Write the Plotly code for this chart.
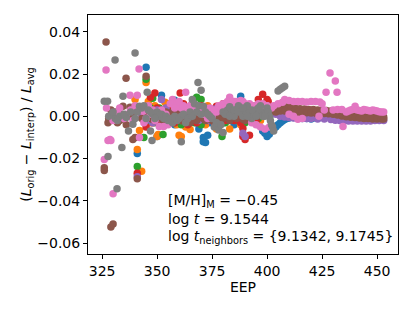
import plotly.graph_objects as go

X_TICKS = [325, 350, 375, 400, 425, 450]
Y_TICKS = [-0.06, -0.04, -0.02, 0.0, 0.02, 0.04]
Y_TICK_TEXT = ["\u22120.06", "\u22120.04", "\u22120.02", "0.00", "0.02", "0.04"]

BLUE = [(343, 0.004), (345, 0.0233), (346, 0.0048), (341, -0.0176), (350, -0.0095), (352, 0.010),
        (352, -0.002), (355, 0.005), (358, 0.0076), (358, -0.004), (360, 0.002), (362, -0.001),
        (364, 0.004), (366, 0.006), (368, -0.003), (369, -0.006), (371, -0.010), (371, -0.012),
        (372, -0.0124), (373, -0.009), (375, 0.001), (377, 0.003), (378, 0.004), (380, -0.003),
        (382, 0.002), (384, -0.001), (386, 0.006), (388, 0.0095), (389, -0.002), (391, 0.003),
        (393, 0.005), (395, 0.001), (396, -0.004), (398, -0.007), (400, -0.0095), (401, -0.0085),
        (402, -0.007), (403, -0.006), (404, -0.005), (405, -0.004), (406, -0.003), (407, -0.0022),
        (408, -0.0015), (409, -0.001), (410, -0.0008), (412, -0.0005), (414, -0.0006), (416, -0.001),
        (418, -0.001), (420, -0.0012), (422, -0.0008), (424, -0.0005), (426, 0.0), (428, 0.0005),
        (430, 0.001), (432, 0.002), (434, 0.001), (436, 0.0), (438, -0.0005), (440, -0.0008),
        (442, -0.001), (444, -0.001), (446, -0.0012), (448, -0.0012), (450, -0.001), (452, -0.001),
        (347, 0.001), (349, 0.003), (351, -0.003), (353, 0.001), (356, 0.002), (359, 0.004),
        (361, -0.003), (363, 0.002), (365, -0.002), (367, 0.003), (370, -0.001), (374, -0.003),
        (376, 0.002), (379, -0.002), (381, 0.005), (383, 0.001), (385, -0.004), (387, 0.002),
        (390, -0.001), (392, 0.001), (394, -0.002), (397, 0.002), (399, -0.008)]

ORANGE = [(340, 0.008), (345, 0.016), (341, -0.0157), (343, -0.026), (342, -0.0067), (346, 0.007),
          (348, 0.002), (350, -0.0095), (350.5, -0.0086), (352, -0.004), (353.6, 0.0067), (355, 0.006),
          (357, -0.002), (360, 0.004), (360, -0.009), (361, -0.0095), (363, -0.005), (365, -0.0062),
          (367, 0.001), (369, 0.003), (370, -0.003), (373, 0.005), (374, -0.001), (376, -0.001),
          (377, -0.006), (379, 0.003), (381, 0.0), (382, -0.002), (383, -0.006), (385, 0.001),
          (388, -0.004), (390, 0.002), (393, 0.0043), (394, -0.001), (396, 0.004), (398, 0.001),
          (400, 0.003), (403, 0.002),
          (344, 0.003), (347, -0.003), (349, 0.005), (351, 0.001), (354, -0.001), (356, 0.003),
          (358, 0.001), (359, -0.004), (362, 0.002), (364, 0.004), (366, -0.002), (368, 0.004),
          (371, 0.001), (372, -0.004), (375, 0.002), (378, 0.001), (380, -0.001), (384, 0.003),
          (386, -0.002), (387, 0.004), (389, 0.001), (391, -0.002), (395, 0.002), (397, -0.002)]

GREEN = [(341, -0.0238), (345, 0.0176), (344, -0.010), (348, 0.0086), (350, 0.001), (352.7, -0.0086),
         (354, 0.003), (356, -0.001), (358, -0.003), (360, 0.002), (362, 0.005), (364, -0.002),
         (366, 0.001), (368, 0.009), (370, 0.008), (370, -0.004), (372, 0.002), (373, 0.003),
         (375, -0.001), (378, -0.002), (379.5, -0.0095), (380, 0.004), (382, 0.001), (385, 0.001),
         (387, -0.002), (390, -0.003), (393, 0.003), (395, 0.005), (397, 0.001), (400, 0.002),
         (402, 0.001),
         (343, 0.002), (346, -0.002), (347, 0.004), (349, -0.003), (351, 0.004), (353, -0.002),
         (355, 0.001), (357, 0.003), (359, -0.001), (361, -0.004), (363, 0.001), (365, 0.003),
         (367, -0.003), (369, 0.001), (371, -0.002), (374, 0.001), (376, 0.003), (377, -0.004),
         (381, -0.003), (383, 0.002), (384, -0.001), (386, 0.003), (388, 0.001), (389, -0.001),
         (391, 0.002), (392, -0.002), (394, 0.0), (396, -0.001), (398, 0.003)]

RED = [(341, -0.027), (345, -0.005), (347, 0.009), (349, 0.011), (349, 0.001), (352, -0.002),
       (355, 0.004), (358, -0.003), (360.5, 0.011), (362, 0.006), (364, -0.004), (366, 0.002),
       (370, 0.005), (373, -0.002), (375, 0.003), (377, 0.0048), (378, -0.001), (380, 0.006),
       (382, 0.004), (385, -0.002), (387, 0.002), (389, -0.0057), (389, -0.0095), (390, -0.011),
       (392, -0.009), (394, 0.003), (396, 0.008), (398, 0.0105), (400, 0.008), (400.5, 0.007),
       (402, 0.004), (404, 0.002), (406, 0.001), (409, 0.0), (412, -0.0003), (415, -0.0005),
       (418, -0.0006), (421, -0.0004), (424, 0.0), (427, 0.0004), (430, 0.0008), (433, 0.001),
       (436, 0.0), (440, -0.0004), (444, -0.0006), (448, -0.0008), (452, -0.0008),
       (343, 0.002), (344, -0.002), (346, 0.003), (348, -0.003), (350, 0.004), (351, 0.001),
       (353, 0.002), (354, -0.003), (356, 0.001), (357, 0.005), (359, 0.001), (361, -0.002),
       (363, 0.003), (365, -0.001), (367, 0.004), (368, -0.003), (369, 0.001), (371, 0.003),
       (372, -0.001), (374, 0.002), (376, -0.003), (379, 0.002), (381, -0.002), (383, 0.003),
       (384, 0.005), (386, 0.001), (388, -0.003), (391, 0.002), (393, 0.001), (395, -0.002),
       (397, 0.004), (399, 0.006)]

PURPLE = [(341, -0.0286), (346, 0.004), (349, -0.001), (352, 0.008), (355, 0.002), (358, -0.001),
          (360, 0.001), (363, 0.003), (365, -0.002), (368, 0.002), (370, 0.003), (372, 0.004),
          (374, 0.0033), (376, 0.0035), (378, 0.003), (380, 0.0033), (382, 0.0035), (384, 0.003),
          (386, 0.0033), (388, 0.004), (389, -0.008), (390, -0.0095), (390, 0.003), (392, 0.0035),
          (394, 0.002), (396, 0.003), (398, 0.004), (400, 0.005), (402, 0.004), (404, 0.001),
          (406, 0.0), (408, -0.0003), (410, -0.0005), (412, -0.0008), (415, -0.0008), (418, -0.001),
          (420, -0.001), (423, -0.0012), (426, -0.0012), (429, -0.0015), (431, -0.0018), (433, -0.002),
          (435, -0.002), (437, -0.0022), (439, -0.0022), (441, -0.0022), (443, -0.0022), (445, -0.0022),
          (447, -0.0022), (449, -0.002), (451, -0.002), (453, -0.002),
          (343, 0.001), (345, -0.002), (347, 0.002), (348, -0.003), (350, 0.003), (351, -0.001),
          (353, 0.001), (354, 0.004), (356, -0.002), (357, 0.001), (359, 0.003), (361, -0.002),
          (362, 0.001), (364, 0.004), (366, -0.001), (367, 0.001), (369, -0.002), (371, 0.001),
          (373, -0.002), (375, 0.001), (377, -0.001), (379, 0.002), (381, 0.001), (383, -0.001),
          (385, 0.002), (387, 0.001), (391, -0.001), (393, 0.001), (395, 0.004), (397, 0.002),
          (399, 0.005)]

BROWN = [(326.8, 0.0352), (326, -0.0243), (326, -0.0257), (329, -0.0524), (330, -0.051),
         (335.9, 0.018), (345, 0.019), (341, -0.0295), (340, -0.010), (339, -0.011),
         (327.7, -0.003), (331, 0.002), (334.5, 0.0048), (337.7, 0.0043), (339, -0.0005),
         (344.5, 0.002), (347.7, -0.0014), (329, 0.003), (333, -0.002), (342, 0.004),
         (328, -0.001), (330, 0.0), (332, -0.003), (334, 0.001), (336, -0.004), (338, 0.0), (340, 0.003),
         (350, 0.001), (352, -0.001), (354, 0.002), (356.8, 0.002), (358, -0.002), (360, 0.0),
         (362, 0.001), (364, -0.001), (366, 0.002), (368, -0.002), (370, 0.0), (372, -0.002),
         (374, 0.001), (376, -0.001), (378, 0.0), (380, -0.001), (382, 0.001), (385, 0.0),
         (387, -0.0005), (389, -0.0014), (391, -0.001), (393, 0.0), (395, 0.002), (397, 0.001),
         (399, 0.002), (401, 0.0025), (403, 0.003),
         (343, -0.001), (346, 0.001), (348, 0.003), (349, -0.002), (351, 0.002), (353, -0.003),
         (355, 0.0), (357, -0.001), (359, 0.002), (361, -0.002), (363, 0.002), (365, -0.003),
         (367, 0.0), (369, 0.002), (371, -0.001), (373, 0.002), (375, -0.002), (377, 0.001),
         (379, -0.002), (381, 0.0), (383, -0.002), (384, 0.001), (386, -0.001), (388, 0.001),
         (390, -0.002), (392, -0.001), (394, 0.001), (396, 0.0), (398, 0.001), (400, 0.001),
         (402, 0.002),
         (405, 0.0035), (407, 0.004), (409, 0.0042), (410, 0.0048), (411, 0.004), (413, 0.0038),
         (415, 0.0036), (417, 0.0035), (419, 0.0033), (421, 0.0032), (423, 0.003), (425, 0.003),
         (427, 0.0028), (429, 0.0025), (431, 0.002), (433, 0.0015), (435, 0.0012), (437, 0.001),
         (439, 0.0008), (441, 0.0006), (443, 0.0004), (445, 0.0002), (447, 0.0), (449, 0.0),
         (451, -0.0002), (453, -0.0003),
         (404, 0.002), (406, 0.0025), (408, 0.0025), (410, 0.0022), (412, 0.002), (414, 0.0018),
         (416, 0.0018), (418, 0.0017), (420, 0.0016), (422, 0.0016), (424, 0.0015), (426, 0.0014),
         (428, 0.0012), (430, 0.001), (432, 0.0006), (434, 0.0002), (436, -0.0002), (438, -0.0004),
         (440, -0.0006), (442, -0.0008), (444, -0.001), (446, -0.001), (448, -0.0012), (450, -0.0012),
         (452, -0.0012), (453, -0.0012)]

PINK = [(326.8, 0.0219), (341.8, 0.0224), (337.7, 0.010), (341, 0.010), (326, -0.0205),
        (327.7, -0.0114), (329, -0.0114), (330, -0.0367), (343.6, 0.0024), (342, -0.010),
        (328.6, -0.011), (332, 0.002), (335, -0.001), (338, 0.003), (340, 0.005), (339, -0.002),
        (327, 0.004), (330, -0.002), (333, 0.004), (336, 0.001), (344, -0.003),
        (346, 0.005), (348, 0.003), (350, 0.002), (351, -0.0048), (353, -0.0048), (355, -0.004),
        (357, 0.008), (359, 0.006), (361, 0.004), (363, 0.0114), (365, 0.005), (367, 0.003),
        (369, 0.002), (371, 0.001), (373, -0.001), (375, 0.0), (377, 0.002), (379, 0.004),
        (381, 0.005), (383, 0.009), (384, 0.006), (385, 0.007), (386, 0.005), (387, 0.006),
        (388, 0.004), (389, 0.007), (390, 0.005), (391, 0.0035), (392, 0.004), (394, 0.003),
        (396, 0.004), (398, 0.006), (400, 0.005),
        (345, -0.001), (347, 0.001), (349, -0.002), (352, 0.003), (354, 0.001), (356, 0.006),
        (358, 0.004), (360, 0.007), (362, 0.005), (364, 0.003), (366, 0.006), (368, 0.004),
        (370, 0.003), (372, 0.002), (374, 0.004), (376, 0.003), (378, 0.005), (380, 0.006),
        (382, 0.007), (384, 0.004), (386, 0.007), (388, 0.0075), (390, 0.006), (392, 0.006),
        (394, 0.005), (396, 0.006), (398, 0.004), (400, 0.003), (402, 0.004),
        (393, -0.003), (395, -0.004), (397, -0.005), (399, -0.006), (401, -0.005),
        (403, 0.005), (405, 0.006), (407, 0.0067), (408, 0.008), (410, 0.0075), (412, 0.007),
        (414, 0.007), (416, 0.007), (418, 0.0068), (420, 0.007), (422, 0.007), (424, 0.0068),
        (425, 0.006), (426, 0.003), (423.6, 0.0), (428.6, 0.0205), (431, 0.0167), (426.8, 0.0114),
        (431.8, 0.0114), (434.5, -0.0048), (410, 0.001), (412, 0.0), (414, -0.0014), (416, -0.001),
        (430, 0.003), (432, 0.0033), (434, 0.0033), (436, 0.002), (437, 0.0025), (438, 0.003),
        (439, 0.0033), (440, 0.0048), (441, 0.003), (442, 0.0028), (443, 0.0025), (444, 0.0033),
        (445, 0.003), (446, 0.0028), (447, 0.0025), (448, 0.003), (449, 0.0028), (450, 0.0025),
        (451, 0.0022), (452, 0.002), (453, 0.002)]

GRAY = [(340, 0.030), (330.9, 0.0267), (326, 0.0071), (327.5, 0.0071), (334.5, 0.0095),
        (345.5, 0.0114), (334, -0.0148), (327.7, -0.019), (331.8, -0.0343), (347.7, -0.0114),
        (329.5, 0.001), (336, -0.0005), (339, -0.0038), (337, -0.007), (347, -0.007), (342, 0.0048),
        (331, -0.001), (333, 0.0), (341, 0.002), (343, 0.004), (344, 0.005), (346, 0.003), (348, 0.001),
        (328, 0.0), (330, 0.002), (332, -0.002), (335, 0.001), (338, 0.002), (340, -0.001),
        (350, 0.002), (351, 0.0), (353, -0.001), (355, -0.002), (357, -0.003), (359, -0.002),
        (361, -0.012), (361, 0.0), (363, -0.003), (365, 0.002), (366, 0.008), (367, 0.006),
        (368.6, 0.016), (369, 0.005), (370, 0.0124), (371, 0.0048), (372, 0.002), (374, 0.0),
        (375, -0.001), (376, -0.005), (378, -0.0065), (380, -0.0076), (380, 0.002), (382, 0.003),
        (383, 0.0045), (384, 0.002), (385, 0.0), (386, 0.003), (387, 0.005), (388, 0.002), (389, 0.0),
        (390, 0.003), (391, 0.005), (392, 0.002), (393, -0.001), (394, 0.001), (395, 0.003),
        (396, 0.004), (397, 0.002), (398, 0.0), (399, 0.002), (400, 0.004), (400.5, 0.002),
        (401, 0.0), (401.5, -0.002), (402, -0.004), (402.5, -0.005), (403, -0.007),
        (345, -0.001), (347, 0.002), (349, -0.001), (352, 0.001), (354, 0.0), (356, -0.001),
        (358, 0.0), (360, -0.001), (362, 0.001), (364, -0.001), (366, 0.0), (368, 0.002),
        (370, 0.001), (373, 0.001), (377, -0.003), (379, -0.004), (381, 0.001), (383, 0.0),
        (385, 0.003), (387, 0.002), (389, 0.004), (391, 0.0), (393, 0.003), (395, 0.0),
        (397, 0.005), (399, 0.0),
        (405, 0.012), (406, 0.0128), (407, 0.0136), (408, 0.0143)]

SERIES = [("#1f77b4", BLUE), ("#ff7f0e", ORANGE), ("#2ca02c", GREEN), ("#d62728", RED),
          ("#9467bd", PURPLE), ("#8c564b", BROWN), ("#e377c2", PINK), ("#7f7f7f", GRAY)]

LINES = ["[M/H]<sub>M</sub> = \u22120.45",
         "log <i>t</i> = 9.1544",
         "log <i>t</i><sub>neighbors</sub> = {9.1342, 9.1745}"]

FONT = "DejaVu Sans"

fig = go.Figure()
for color, pts in SERIES:
    fig.add_trace(go.Scatter(
        x=[p[0] for p in pts], y=[p[1] for p in pts], mode="markers",
        marker=dict(color=color, size=7.5, line=dict(width=0)),
        showlegend=False, hoverinfo="skip"))

L, R, T, B = 88, 17, 15, 57
W, H = 415, 311
ph = H - T - B
line_y = [201, 219, 237]
for txt, py in zip(LINES, line_y):
    fig.add_annotation(text=txt, xref="paper", yref="paper",
                       x=(166 - L) / (W - L - R), y=(H - B - py) / ph,
                       xanchor="left", yanchor="middle", showarrow=False,
                       font=dict(family=FONT, size=14, color="black"))

fig.update_layout(
    template="none",
    width=W, height=H, margin=dict(l=L, r=R, t=T, b=B, autoexpand=False),
    paper_bgcolor="white", plot_bgcolor="white",
    font=dict(family=FONT, size=14, color="black"),
    xaxis=dict(range=[318.6, 459.5], tickvals=X_TICKS, ticks="outside", ticklen=4,
               tickwidth=1, tickcolor="black", showline=True, mirror=True, linecolor="black",
               linewidth=1, showgrid=False, zeroline=False, automargin=False,
               title=dict(text="EEP", font=dict(size=14), standoff=0)),
    yaxis=dict(range=[-0.0652, 0.048], tickvals=Y_TICKS, ticktext=Y_TICK_TEXT, ticks="outside",
               ticklen=4, tickwidth=1, tickcolor="black", showline=True, mirror=True,
               linecolor="black", linewidth=1, showgrid=False, zeroline=False, automargin=False,
               title=dict(text="(<i>L</i><sub>orig</sub> \u2212 <i>L</i><sub>interp</sub>) / <i>L</i><sub>avg</sub>",
                          font=dict(size=14), standoff=2)),
)

fig.write_html("out.html", config={"displayModeBar": False},
               post_script="document.body.style.margin='0';document.body.style.overflow='hidden';")
